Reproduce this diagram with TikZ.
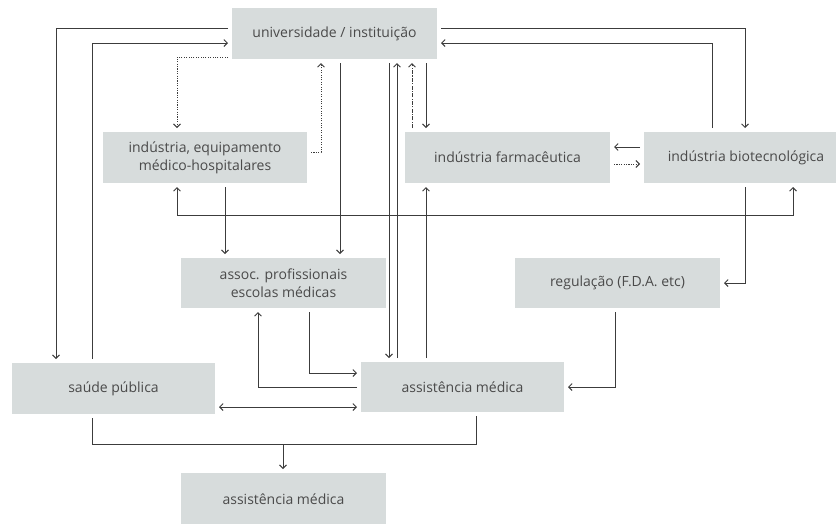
\documentclass[tikz,border=0pt]{standalone}
\usepackage{fontspec}
\setmainfont{Open Sans}
\usetikzlibrary{arrows.meta}
\definecolor{boxfill}{HTML}{D7DCDC}
\definecolor{linegray}{HTML}{3C3C3C}
\definecolor{textgray}{HTML}{4A4A4A}
\begin{document}
\begin{tikzpicture}[x=1pt,y=-1pt,
  box/.style={rectangle,fill=boxfill,inner sep=0pt,outer sep=4pt,
    text=textgray,align=center,font=\fontsize{14}{18}\selectfont},
  link/.style={draw=linegray,line width=0.9pt},
  arr/.style={link,-{Straight Barb[length=3.5pt,width=7pt]}},
  biarr/.style={link,{Straight Barb[length=3.5pt,width=7pt]}-{Straight Barb[length=3.5pt,width=7pt]}},
  dots/.style={dash pattern=on 1.1pt off 1.3pt},
  dashdots/.style={dash pattern=on 4pt off 1.3pt on 1.1pt off 1.3pt}]
\useasboundingbox (0,0) rectangle (836,523);

% boxes
\node[box,minimum width=205pt,minimum height=51pt] (univ) at (334.5,33.5) {universidade / instituição};
\node[box,minimum width=204pt,minimum height=51pt] (indEq) at (205,157.5) {indústria, equipamento\\médico-hospitalares};
\node[box,minimum width=205pt,minimum height=51pt] (farm) at (507.5,157.5) {indústria farmacêutica};
\node[box,minimum width=204pt,minimum height=51pt] (bio) at (746,157.5) {indústria biotecnológica};
\node[box,minimum width=205pt,minimum height=50pt] (assoc) at (283.5,283) {assoc. profissionais\\escolas médicas};
\node[box,minimum width=205pt,minimum height=50pt] (reg) at (617.5,283) {regulação (F.D.A. etc)};
\node[box,minimum width=203pt,minimum height=51pt] (saude) at (113.5,388.5) {saúde pública};
\node[box,minimum width=203pt,minimum height=50pt] (assist) at (462.5,387) {assistência médica};
\node[box,minimum width=205pt,minimum height=52pt] (assist2) at (283.5,499) {assistência médica};

% connectors around the university
\draw[arr] (univ.west |- 0,28) -| (56,0 |- saude.north);
\draw[arr] (92,0 |- saude.north) |- (univ.west |- 0,43);
\draw[arr,dots] (univ.west |- 0,57) -| (177,0 |- indEq.north);
\draw[arr,dots] (indEq.east |- 0,152) -| (321,0 |- univ.south);
\draw[arr] (340,0 |- univ.south) -- (340,0 |- assoc.north);
\draw[arr] (389,0 |- univ.south) -- (389,0 |- assist.north);
\draw[arr] (397,0 |- assist.north) -- (397,0 |- univ.south);
\draw[arr,dashdots] (412,0 |- farm.north) -- (412,0 |- univ.south);
\draw[arr] (426,0 |- univ.south) -- (426,0 |- farm.north);
\draw[arr] (univ.east |- 0,28) -| (745,0 |- bio.north);
\draw[arr] (712,0 |- bio.north) |- (univ.east |- 0,43);

% industries
\draw[arr] (225,0 |- indEq.south) -- (225,0 |- assoc.north);
\draw[biarr] (177,0 |- indEq.south) |- (793,215) -- (793,0 |- bio.south);
\draw[arr] (bio.west |- 0,147) -- (farm.east |- 0,147);
\draw[arr,dots] (farm.east |- 0,164) -- (bio.west |- 0,164);
\draw[arr] (745,0 |- bio.south) |- (reg.east);

% care and public health
\draw[arr] (426,0 |- assist.north) -- (426,0 |- farm.south);
\draw[arr] (615,0 |- reg.south) |- (assist.east);
\draw[arr] (assist.west) -| (258,0 |- assoc.south);
\draw[arr] (309,0 |- assoc.south) |- (assist.west |- 0,373);
\draw[biarr] (saude.east |- 0,407) -- (assist.west |- 0,407);
\coordinate (merge) at (283,444);
\draw[link] (92,0 |- saude.south) |- (476,444) -- (476,0 |- assist.south);
\draw[arr] (merge) -- (merge |- assist2.north);
\end{tikzpicture}
\end{document}
